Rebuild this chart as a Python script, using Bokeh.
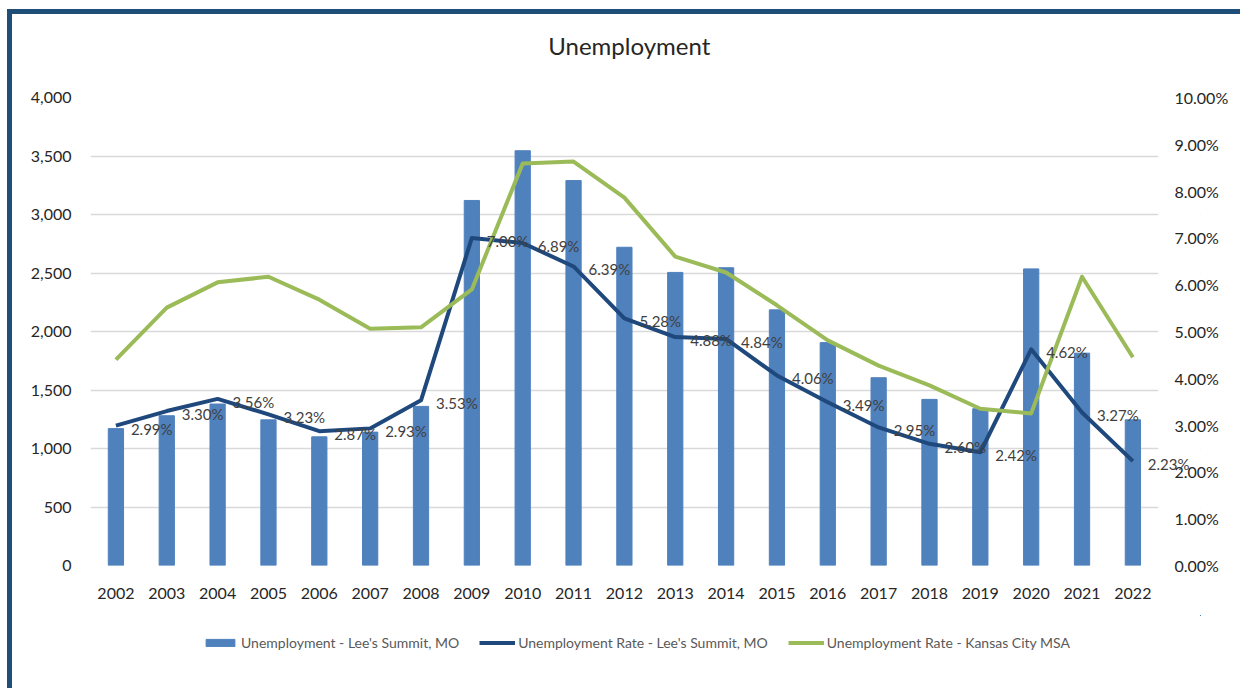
from bokeh.plotting import figure
from bokeh.layouts import column
from bokeh.models import (ColumnDataSource, Range1d, LinearAxis, NumeralTickFormatter,
                          FixedTicker, LabelSet, Legend, LegendItem, BoxAnnotation)
from bokeh.core.properties import value
from bokeh.embed import file_html
from bokeh.resources import INLINE

title_text = "Unemployment"
years = [str(y) for y in range(2002, 2023)]
unemployment = [1170, 1280, 1380, 1245, 1100, 1140, 1360, 3120, 3545, 3290, 2720,
                2505, 2545, 2185, 1905, 1605, 1420, 1340, 2535, 1815, 1245]
rate_lees = [2.99, 3.30, 3.56, 3.23, 2.87, 2.93, 3.53, 7.00, 6.89, 6.39, 5.28,
             4.88, 4.84, 4.06, 3.49, 2.95, 2.60, 2.42, 4.62, 3.27, 2.23]
rate_kc = [4.40, 5.51, 6.05, 6.17, 5.68, 5.06, 5.09, 5.90, 8.59, 8.63, 7.86,
           6.60, 6.26, 5.56, 4.81, 4.27, 3.85, 3.35, 3.25, 6.17, 4.45]

FONT = "Lato"
BAR = "#4F81BD"
NAVY = "#1F497D"
GREEN = "#9BBB59"
BORDER = "#1F4E79"
W = 1228

n = len(years)
xs = [i + 0.5 for i in range(n)]
src = ColumnDataSource(dict(
    x=xs,
    unemp=unemployment,
    lees=[v / 100 for v in rate_lees],
    kc=[v / 100 for v in rate_kc],
    lbl=["%.2f%%" % v for v in rate_lees],
))

# ---- title strip ----
tf = figure(x_range=Range1d(0, W), y_range=Range1d(0, 60), width=W, height=60,
            output_backend="svg", toolbar_location=None,
            x_axis_location=None, y_axis_location=None,
            min_border_left=0, min_border_right=0, min_border_top=0, min_border_bottom=0)
tf.outline_line_color = None
tf.grid.visible = False
tf.text(x=[596], y=[29], text=[title_text], text_align="center", text_baseline="middle",
        text_font=value(FONT), text_font_size=value("24px"), text_color="#262626")

# ---- main chart: frame extends a little past the last category so the last label is not clipped ----
p = figure(x_range=Range1d(0, n + 0.83), y_range=Range1d(0, 4000),
           width=W, height=541, output_backend="svg", toolbar_location=None,
           min_border_left=78, min_border_right=40, min_border_top=23, min_border_bottom=50)
p.extra_y_ranges = {"pct": Range1d(0, 0.10)}

p.outline_line_color = None
p.xgrid.grid_line_color = None
p.ygrid.grid_line_color = "#D9D9D9"
p.ygrid.grid_line_width = 1.5
p.ygrid.ticker = FixedTicker(ticks=list(range(0, 4001, 500)))

# hide grid lines beyond the last category
p.add_layout(BoxAnnotation(left=n, fill_color="white", fill_alpha=1,
                           line_color=None, level="underlay"))

bars = p.vbar(x="x", top="unemp", width=0.3, source=src, color=BAR)
l1 = p.line(x="x", y="lees", source=src, y_range_name="pct", color=NAVY,
            line_width=4, line_join="round")
l2 = p.line(x="x", y="kc", source=src, y_range_name="pct", color=GREEN,
            line_width=4, line_join="round")

labels = LabelSet(x="x", y="lees", text="lbl", source=src, y_range_name="pct",
                  x_offset=15, y_offset=-3, text_baseline="middle",
                  text_font=value(FONT), text_font_size=value("15px"),
                  text_color="#404040")
p.add_layout(labels)

def style_axis(ax):
    ax.axis_line_color = None
    ax.major_tick_line_color = None
    ax.minor_tick_line_color = None
    ax.major_label_text_font = FONT
    ax.major_label_text_font_size = "16px"
    ax.major_label_text_color = "#262626"

p.yaxis.ticker = FixedTicker(ticks=list(range(0, 4001, 500)))
p.yaxis.formatter = NumeralTickFormatter(format="0,0")
style_axis(p.yaxis[0])
p.yaxis.major_label_standoff = 13

p.xaxis.ticker = FixedTicker(ticks=xs)
p.xaxis.major_label_overrides = {x: y for x, y in zip(xs, years)}
style_axis(p.xaxis[0])
p.xaxis.major_label_standoff = 16

ax2 = LinearAxis(y_range_name="pct", ticker=FixedTicker(ticks=[i / 100 for i in range(0, 11)]),
                 formatter=NumeralTickFormatter(format="0.00%"))
style_axis(ax2)
ax2.major_label_standoff = -32
p.add_layout(ax2, "right")

# ---- legend strip (its renderers draw the real data, but outside the strip's view) ----
lg = figure(x_range=Range1d(-2, -1), y_range=Range1d(-2, -1), width=W, height=73,
            output_backend="svg", toolbar_location=None,
            x_axis_location=None, y_axis_location=None,
            min_border_left=0, min_border_right=0, min_border_top=0, min_border_bottom=0)
lg.outline_line_color = None
lg.grid.visible = False
d1 = lg.vbar(x="x", top="unemp", width=0.3, source=src, color=BAR)
d2 = lg.line(x="x", y="lees", source=src, color=NAVY, line_width=4)
d3 = lg.line(x="x", y="kc", source=src, color=GREEN, line_width=4)

legend = Legend(items=[
    LegendItem(label="Unemployment - Lee's Summit, MO", renderers=[d1]),
    LegendItem(label="Unemployment Rate - Lee's Summit, MO", renderers=[d2]),
    LegendItem(label="Unemployment Rate - Kansas City MSA", renderers=[d3]),
], orientation="horizontal", location=(112, 37),
    label_text_font=FONT, label_text_font_size="14px", label_text_color="#595959",
    glyph_width=36, glyph_height=9, label_standoff=3, spacing=20,
    border_line_color=None, background_fill_alpha=0, margin=0, padding=4)
lg.add_layout(legend, "center")

layout = column(tf, p, lg, spacing=0)
layout.styles = {"border-top": "5px solid " + BORDER, "border-left": "5px solid " + BORDER,
                 "margin-left": "7px", "margin-top": "9px"}

open("out.html", "w").write(file_html(layout, INLINE))
